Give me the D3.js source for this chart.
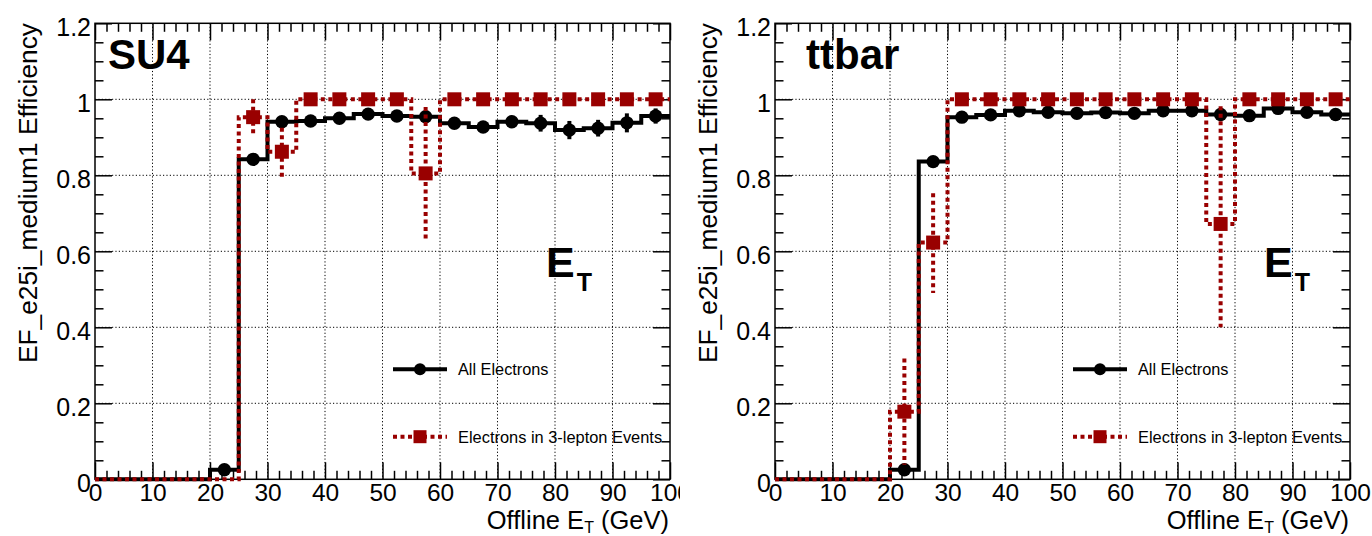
<!DOCTYPE html>
<html>
<head>
<meta charset="utf-8">
<script src="https://cdn.jsdelivr.net/npm/d3@7"></script>
<style>
  html, body { margin: 0; padding: 0; background: #fff; }
  svg { display: block; font-family: "Liberation Sans", Arial, Helvetica, sans-serif; }
</style>
</head>
<body>
<svg id="chart" width="1372" height="536"></svg>
<script>
// ---- binning and axis labels ----
const binEdges = [0, 5, 10, 15, 20, 25, 30, 35, 40, 45, 50, 55, 60, 65, 70, 75, 80, 85, 90, 95, 100];
const xTickValues = [0, 10, 20, 30, 40, 50, 60, 70, 80, 90, 100];
const yTickValues = [0, 0.2, 0.4, 0.6, 0.8, 1.0, 1.2];
const yTickLabels = ["0", "0.2", "0.4", "0.6", "0.8", "1", "1.2"];
const seriesNames = ["All Electrons", "Electrons in 3-lepton Events"];
const panelTitles = ["SU4", "ttbar"];
const yAxisTitle = "EF_e25i_medium1 Efficiency";

// ---- SU4 sample: efficiency per 5 GeV bin ----
const su4All      = [0, 0, 0, 0, 0.025, 0.842, 0.941, 0.943, 0.950, 0.961, 0.956, 0.954, 0.937, 0.927, 0.941, 0.937, 0.919, 0.924, 0.938, 0.956];
const su4AllErr   = [0, 0, 0, 0, 0.010, 0.012, 0.010, 0.008, 0.008, 0.008, 0.008, 0.010, 0.012, 0.014, 0.015, 0.022, 0.024, 0.022, 0.025, 0.020];
const su4Lep      = [0, 0, 0, 0, 0, 0.953, 0.862, 1, 1, 1, 1, 0.805, 1, 1, 1, 1, 1, 1, 1, 1];
const su4LepErrUp = [0, 0, 0, 0, 0, 0.047, 0.063, 0, 0, 0, 0, 0.175, 0, 0, 0, 0, 0, 0, 0, 0];
const su4LepErrDn = [0, 0, 0, 0, 0, 0.051, 0.070, 0, 0, 0, 0, 0.175, 0, 0, 0, 0, 0, 0, 0, 0];

// ---- ttbar sample ----
const ttbarAll      = [0, 0, 0, 0, 0.025, 0.836, 0.953, 0.959, 0.970, 0.966, 0.963, 0.965, 0.963, 0.970, 0.970, 0.960, 0.957, 0.976, 0.966, 0.960];
const ttbarAllErr   = [0, 0, 0, 0, 0.008, 0.010, 0.006, 0.005, 0.005, 0.005, 0.005, 0.005, 0.006, 0.006, 0.006, 0.007, 0.007, 0.007, 0.008, 0.008];
const ttbarLep      = [0, 0, 0, 0, 0.178, 0.623, 1, 1, 1, 1, 1, 1, 1, 1, 1, 0.672, 1, 1, 1, 1];
const ttbarLepErrUp = [0, 0, 0, 0, 0.140, 0.130, 0, 0, 0, 0, 0, 0, 0, 0, 0, 0.310, 0, 0, 0, 0];
const ttbarLepErrDn = [0, 0, 0, 0, 0.140, 0.133, 0, 0, 0, 0, 0, 0, 0, 0, 0, 0.272, 0, 0, 0, 0];

// ---- layout ----
const W = 575, H = 456;
const BLACK = "#000";
const RED = "#990000";
const DOT = "4 3.5";

const svg = d3.select("#chart");

const panels = [
  { ox: 0,   width: 680, title: panelTitles[0], titleX: 13, etX: 451,
    all: su4All, allErr: su4AllErr, lep: su4Lep, lepUp: su4LepErrUp, lepDn: su4LepErrDn },
  { ox: 680, width: 692, title: panelTitles[1], titleX: 31, etX: 489,
    all: ttbarAll, allErr: ttbarAllErr, lep: ttbarLep, lepUp: ttbarLepErrUp, lepDn: ttbarLepErrDn }
];

const x = d3.scaleLinear().domain([0, 100]).range([0, W]);
const y = d3.scaleLinear().domain([0, 1.2]).range([H, 0]);

const minorX = d3.range(0, 101, 2).filter(v => v % 10 !== 0);
const minorY = d3.range(0, 1.2001, 0.05).map(v => +v.toFixed(2)).filter(v => !yTickValues.some(t => Math.abs(t - v) < 1e-6));

const stepLine = d3.line().x(d => x(d[0])).y(d => y(d[1]));
function stepPoints(vals) {
  const pts = [];
  vals.forEach((v, i) => { pts.push([binEdges[i], v]); pts.push([binEdges[i + 1], v]); });
  return pts;
}
const centers = binEdges.slice(0, -1).map((e, i) => (e + binEdges[i + 1]) / 2);

panels.forEach((p, pi) => {
  const canvas = svg.append("g").attr("transform", `translate(${p.ox},0)`);
  canvas.append("rect").attr("x", 0).attr("y", 0).attr("width", p.width).attr("height", 536).attr("fill", "#fff");

  const g = canvas.append("g").attr("transform", "translate(95,23.3)");

  // grid
  const grid = g.append("g").attr("stroke", BLACK).attr("stroke-width", 1).attr("stroke-dasharray", "1.2 2.2");
  grid.selectAll("line.gx").data(xTickValues.filter(v => v > 0 && v < 100)).join("line")
    .attr("x1", d => x(d)).attr("x2", d => x(d)).attr("y1", 0).attr("y2", H);
  grid.selectAll("line.gy").data(yTickValues.filter(v => v > 0 && v < 1.2)).join("line")
    .attr("x1", 0).attr("x2", W).attr("y1", d => y(d)).attr("y2", d => y(d));

  // axes (ticks pointing inward on all four sides)
  function styleAxis(sel) {
    sel.attr("font-size", null).attr("font-family", null);
    sel.select(".domain").remove();
    sel.selectAll(".tick line").attr("stroke-width", 1.5);
  }
  const axB = g.append("g").attr("transform", `translate(0,${H})`)
    .call(d3.axisBottom(x).tickValues(xTickValues).tickSize(-17).tickFormat(d => String(d)));
  styleAxis(axB);
  axB.selectAll("text").attr("y", 21.5).attr("dy", null).attr("font-size", 24.5).attr("fill", BLACK);
  g.append("g").attr("transform", `translate(0,${H})`)
    .call(d3.axisBottom(x).tickValues(minorX).tickSize(-8.5).tickFormat("")).call(styleAxis);

  const axT = g.append("g").call(d3.axisTop(x).tickValues(xTickValues).tickSize(-17).tickFormat(""));
  styleAxis(axT);
  g.append("g").call(d3.axisTop(x).tickValues(minorX).tickSize(-8.5).tickFormat("")).call(styleAxis);

  const axL = g.append("g")
    .call(d3.axisLeft(y).tickValues(yTickValues).tickSize(-17).tickFormat((d, i) => yTickLabels[i]));
  styleAxis(axL);
  axL.selectAll("text").attr("x", -4).attr("dy", null).attr("y", 12).attr("font-size", 25).attr("fill", BLACK);
  g.append("g").call(d3.axisLeft(y).tickValues(minorY).tickSize(-8.5).tickFormat("")).call(styleAxis);

  g.append("g").attr("transform", `translate(${W},0)`)
    .call(d3.axisRight(y).tickValues(yTickValues).tickSize(-17).tickFormat("")).call(styleAxis);
  g.append("g").attr("transform", `translate(${W},0)`)
    .call(d3.axisRight(y).tickValues(minorY).tickSize(-8.5).tickFormat("")).call(styleAxis);

  // frame
  g.append("rect").attr("x", 0).attr("y", 0).attr("width", W).attr("height", H)
    .attr("fill", "none").attr("stroke", BLACK).attr("stroke-width", 1.5);

  // all electrons: step histogram, error bars, markers
  g.append("path").attr("d", stepLine(stepPoints(p.all)))
    .attr("fill", "none").attr("stroke", BLACK).attr("stroke-width", 4).attr("stroke-linejoin", "miter");
  const allIdx = p.all.map((v, i) => i).filter(i => p.all[i] > 0);
  g.append("g").selectAll("line").data(allIdx).join("line")
    .attr("x1", i => x(centers[i])).attr("x2", i => x(centers[i]))
    .attr("y1", i => y(p.all[i] + p.allErr[i])).attr("y2", i => y(p.all[i] - p.allErr[i]))
    .attr("stroke", BLACK).attr("stroke-width", 4);
  g.append("g").selectAll("circle").data(allIdx).join("circle")
    .attr("cx", i => x(centers[i])).attr("cy", i => y(p.all[i])).attr("r", 6.7).attr("fill", BLACK);

  // 3-lepton events: dotted step histogram, error bars, square markers
  g.append("path").attr("d", stepLine(stepPoints(p.lep)))
    .attr("fill", "none").attr("stroke", RED).attr("stroke-width", 4).attr("stroke-dasharray", DOT);
  const lepIdx = p.lep.map((v, i) => i).filter(i => p.lep[i] > 0);
  g.append("g").selectAll("line").data(lepIdx.filter(i => p.lepUp[i] > 0 || p.lepDn[i] > 0)).join("line")
    .attr("x1", i => x(centers[i])).attr("x2", i => x(centers[i]))
    .attr("y1", i => y(p.lep[i] + p.lepUp[i])).attr("y2", i => y(p.lep[i] - p.lepDn[i]))
    .attr("stroke", RED).attr("stroke-width", 4).attr("stroke-dasharray", DOT);
  g.append("g").selectAll("rect").data(lepIdx).join("rect")
    .attr("x", i => x(centers[i]) - 7).attr("y", i => y(p.lep[i]) - 7)
    .attr("width", 14).attr("height", 14).attr("fill", RED);

  // panel title and E_T tag
  g.append("text").attr("x", p.titleX).attr("y", 45.5).attr("font-size", 42).attr("font-weight", "bold")
    .attr("fill", BLACK).text(p.title);
  const et = g.append("text").attr("x", p.etX).attr("y", 253.5).attr("font-size", 43).attr("font-weight", "bold").attr("fill", BLACK);
  et.append("tspan").text("E");
  et.append("tspan").attr("font-size", 25).attr("dy", 14).attr("dx", 2).text("T");

  // legend
  const lg = g.append("g").attr("transform", "translate(298,0)");
  const ly1 = 346, ly2 = 413.4;
  lg.append("line").attr("x1", 0).attr("x2", 54).attr("y1", ly1).attr("y2", ly1).attr("stroke", BLACK).attr("stroke-width", 4);
  lg.append("circle").attr("cx", 27).attr("cy", ly1).attr("r", 6).attr("fill", BLACK);
  lg.append("text").attr("x", 65).attr("y", ly1 + 6).attr("font-size", 16.3).attr("fill", BLACK).text(seriesNames[0]);
  lg.append("line").attr("x1", 0).attr("x2", 54).attr("y1", ly2).attr("y2", ly2).attr("stroke", RED).attr("stroke-width", 4).attr("stroke-dasharray", DOT);
  lg.append("rect").attr("x", 20.5).attr("y", ly2 - 6.5).attr("width", 13).attr("height", 13).attr("fill", RED);
  lg.append("text").attr("x", 65).attr("y", ly2 + 6).attr("font-size", 16.4).attr("fill", BLACK).text(seriesNames[1]);

  // axis titles
  canvas.append("text").attr("transform", "translate(37,23) rotate(-90)").attr("text-anchor", "end")
    .attr("font-size", 26.3).attr("fill", BLACK).text(yAxisTitle);
  const xt = canvas.append("text").attr("x", 95 + W - 1).attr("y", 529).attr("text-anchor", "end")
    .attr("font-size", 25.5).attr("fill", BLACK);
  xt.append("tspan").text("Offline E");
  xt.append("tspan").attr("font-size", 16).attr("dy", 3.5).text("T");
  xt.append("tspan").attr("dy", -3.5).text(" (GeV)");
});
</script>
</body>
</html>
